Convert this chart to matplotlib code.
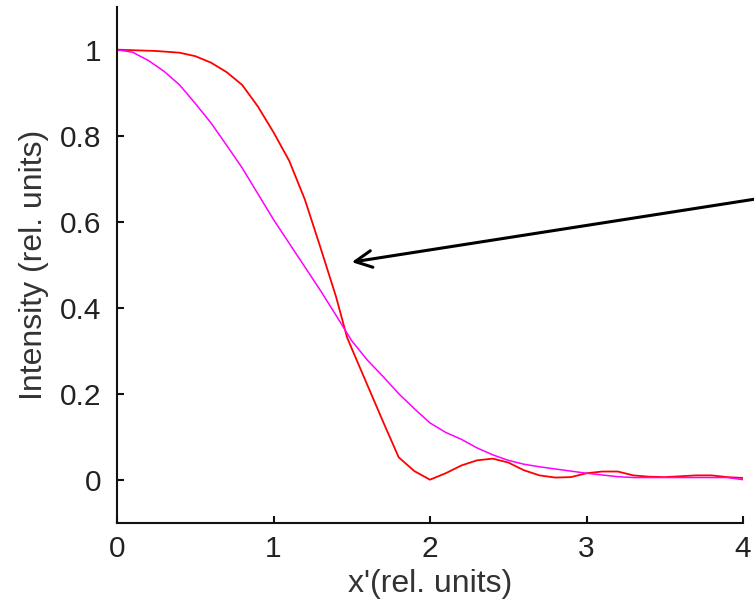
import matplotlib
matplotlib.use("Agg")
import matplotlib.pyplot as plt
from matplotlib.ticker import FuncFormatter

# Red curve (sharper profile with side-lobes)
red_x = [0.0, 0.25, 0.4, 0.5, 0.6, 0.7, 0.8, 0.9, 1.0, 1.1, 1.2, 1.3, 1.4, 1.47,
         1.5, 1.6, 1.7, 1.8, 1.9, 2.0, 2.1, 2.2, 2.3, 2.4, 2.5, 2.6, 2.7, 2.8,
         2.9, 3.0, 3.1, 3.2, 3.3, 3.4, 3.5, 3.6, 3.7, 3.8, 3.9, 4.0]
red_y = [1.0, 0.997, 0.993, 0.985, 0.97, 0.948, 0.918, 0.868, 0.808, 0.742, 0.652,
         0.54, 0.425, 0.331, 0.305, 0.22, 0.135, 0.052, 0.02, 0.0, 0.015, 0.033,
         0.045, 0.049, 0.04, 0.022, 0.01, 0.005, 0.006, 0.015, 0.019, 0.019, 0.01,
         0.007, 0.006, 0.008, 0.01, 0.01, 0.006, 0.004]

# Magenta curve (smooth profile)
mag_x = [0.0, 0.1, 0.2, 0.3, 0.4, 0.5, 0.6, 0.7, 0.8, 0.9, 1.0, 1.1, 1.2, 1.3,
         1.4, 1.5, 1.6, 1.7, 1.8, 1.9, 2.0, 2.1, 2.2, 2.3, 2.4, 2.5, 2.6, 2.7,
         2.8, 2.9, 3.0, 3.1, 3.2, 3.3, 3.5, 3.7, 3.9, 4.0]
mag_y = [1.0, 0.994, 0.975, 0.95, 0.918, 0.875, 0.83, 0.778, 0.725, 0.665, 0.605,
         0.55, 0.495, 0.44, 0.382, 0.323, 0.278, 0.24, 0.2, 0.165, 0.132, 0.11,
         0.094, 0.074, 0.058, 0.045, 0.036, 0.03, 0.025, 0.02, 0.015, 0.011,
         0.007, 0.005, 0.005, 0.005, 0.005, 0.0]

x_ticks = [0, 1, 2, 3, 4]
y_ticks = [0, 0.2, 0.4, 0.6, 0.8, 1]
x_label = "x'(rel. units)"
y_label = "Intensity (rel. units)"
arrow_tip = (1.5, 0.506)
arrow_tail = (4.12, 0.655)

plt.rcParams['font.family'] = ['Liberation Sans', 'DejaVu Sans']

fig = plt.figure(figsize=(7.54, 6.12), dpi=100)
ax = fig.add_axes([117 / 754, 1 - 522.7 / 612, (743 - 117) / 754, (522.7 - 6.7) / 612])

ax.plot(red_x, red_y, color='#ff0000', lw=1.3)
ax.plot(mag_x, mag_y, color='#ff00ff', lw=1.1)

ax.set_xlim(0, 4)
ax.set_ylim(-0.1, 1.1)
ax.set_xticks(x_ticks)
ax.set_yticks(y_ticks)
fmt = FuncFormatter(lambda v, p: f"{v:g}")
ax.xaxis.set_major_formatter(fmt)
ax.yaxis.set_major_formatter(fmt)

for s in ['top', 'right']:
    ax.spines[s].set_visible(False)
for s in ['left', 'bottom']:
    ax.spines[s].set_linewidth(1.5)
    ax.spines[s].set_color('#111111')

ax.tick_params(direction='in', length=5, width=1.5, colors='#111111',
               labelsize=21.5, labelcolor='#222222')
ax.tick_params(axis='y', pad=11)
ax.tick_params(axis='x', pad=9)

ax.set_xlabel(x_label, fontsize=23, color='#333333', labelpad=4)
ax.set_ylabel(y_label, fontsize=23, color='#333333', labelpad=8)

ax.annotate('', xy=arrow_tip, xytext=arrow_tail, xycoords='data', textcoords='data',
            annotation_clip=False,
            arrowprops=dict(arrowstyle='->', color='black', lw=2.2,
                            mutation_scale=30, shrinkA=0, shrinkB=0))

fig.savefig('out.png', dpi=100)
